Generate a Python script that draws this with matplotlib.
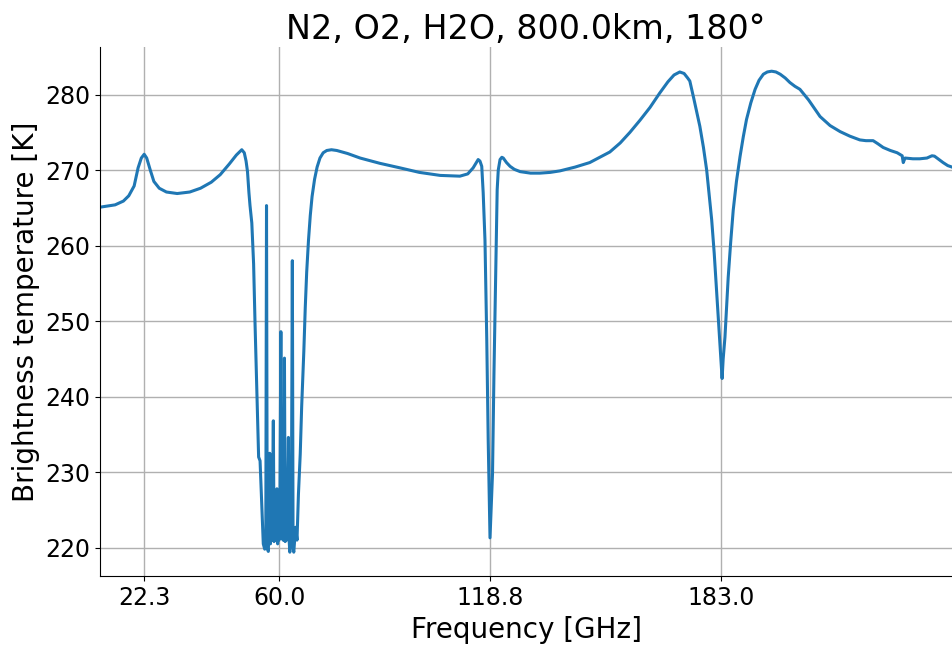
import matplotlib
matplotlib.use('Agg')
import matplotlib.pyplot as plt

# Frequency grid [GHz] and brightness temperature [K]
freq = [10.1, 14.2, 16.5, 18.0, 19.5, 20.6, 21.5, 22.3, 23.0, 24.0, 25.0, 26.5, 28.5, 31.5,
        35.0, 38.0, 41.0, 43.5, 46.0, 48.0, 49.5, 50.2, 50.7, 51.1, 51.5, 51.8, 52.3, 52.8,
        53.2, 53.7, 54.2, 54.6, 55.1, 55.5,
        55.9, 56.2, 56.4, 56.6, 56.9, 57.1, 57.3, 57.5, 57.7, 57.9, 58.0, 58.3, 58.5, 58.7,
        58.9, 59.1, 59.3, 59.5, 59.7, 59.9, 60.1, 60.4, 60.6, 60.8, 61.0, 61.2, 61.4, 61.6,
        61.8, 62.0, 62.2, 62.5, 62.7, 62.9, 63.1, 63.3, 63.6, 63.8, 64.0, 64.3, 64.5, 64.9,
        65.3, 65.8, 66.2, 66.8, 67.2, 67.6, 68.1, 68.6, 69.1, 69.8, 70.5, 71.3, 72.2, 73.2,
        74.5, 76.0, 79.0, 82.5, 88.0, 93.6, 99.0, 104.8, 110.3, 112.5, 114.0, 115.0, 115.4,
        115.9, 116.4, 116.8, 117.3, 117.8, 118.2, 118.7,
        119.4, 119.8, 120.3, 120.7, 121.0, 121.5, 122.0, 122.4, 123.3, 124.3, 125.5, 127.1,
        130.0, 132.6, 135.5, 138.2, 142.4, 146.5, 152.1, 155.0, 157.7, 160.5, 163.3, 166.0,
        168.3, 170.0, 171.6, 172.8, 173.8, 174.4, 175.5, 177.2, 178.2, 179.1, 180.5, 181.2,
        181.9, 182.5, 182.8, 183.4, 183.7, 184.2, 184.6, 185.1, 185.8, 186.5, 187.4, 188.4,
        189.3, 190.2, 191.4, 192.6, 193.7, 194.9, 196.0, 197.2, 198.4, 199.6, 201.0, 202.3,
        203.7, 205.1, 207.5, 210.7, 213.5, 216.3, 219.0, 221.8, 223.5, 225.5, 226.8, 228.3,
        230.3, 232.2, 233.6, 233.9, 234.4, 236.6, 238.5, 240.5, 241.9, 242.6, 243.3, 245.0,
        246.3, 247.5]
tb = [265.1, 265.4, 265.9, 266.6, 267.9, 270.3, 271.6, 272.1, 271.6, 270.0, 268.5, 267.6, 267.1, 266.9,
      267.1, 267.6, 268.4, 269.4, 270.8, 272.0, 272.7, 272.3, 271.2, 269.8, 267.0, 265.3, 263.0, 257.6,
      249.7, 241.0, 232.0, 231.5, 225.3, 220.5,
      219.8, 221.0, 265.3, 220.0, 219.5, 223.0, 232.5, 220.5, 227.0, 221.0, 222.0, 236.8, 220.8, 227.5,
      221.0, 226.0, 227.8, 220.5, 224.0, 221.0, 223.0, 248.6, 221.5, 228.0, 221.0, 227.0, 245.1, 220.8,
      226.0, 221.0, 225.0, 234.6, 221.0, 219.4, 222.0, 221.0, 258.0, 220.0, 219.4, 221.5, 222.7, 221.0,
      227.1, 232.4, 238.7, 246.0, 251.8, 256.5, 260.7, 264.0, 266.5, 268.8, 270.4, 271.6, 272.3, 272.6,
      272.7, 272.6, 272.2, 271.6, 270.9, 270.3, 269.7, 269.3, 269.2, 269.5, 270.3, 271.1, 271.4,
      271.2, 270.5, 267.0, 260.7, 247.5, 234.2, 221.3,
      229.8, 243.0, 256.3, 267.4, 270.0, 271.4, 271.7, 271.6, 271.0, 270.5, 270.1, 269.8,
      269.6, 269.6, 269.7, 269.9, 270.4, 271.0, 272.4, 273.6, 275.0, 276.6, 278.3, 280.2,
      281.7, 282.6, 283.0, 282.8, 282.2, 281.8, 279.5, 275.8, 273.0, 270.0, 263.4, 259.0,
      253.7, 249.0, 247.0, 242.4, 245.0, 247.9, 251.5, 255.8, 260.5, 264.7, 268.5, 271.8,
      274.4, 276.7, 278.9, 280.7, 281.9, 282.7, 283.0, 283.1, 283.0, 282.7, 282.2, 281.6,
      281.1, 280.7, 279.3, 277.1, 275.9, 275.1, 274.5, 274.0, 273.9, 273.9, 273.5, 273.0,
      272.6, 272.3, 271.9, 271.0, 271.6, 271.5, 271.5, 271.6, 271.9, 271.85, 271.6, 271.0,
      270.6, 270.4]

xticks = [22.3, 60.0, 118.8, 183.0]

fig = plt.figure(figsize=(9.53, 6.46), dpi=100)
ax = fig.add_axes([0.105, 0.108, 0.894, 0.819])
ax.plot(freq, tb, color='#1f77b4', linewidth=2.2)

ax.set_xlim(10, 247.5)
ax.set_xticks(xticks)
ax.set_xticklabels(['%.1f' % t for t in xticks])
ax.tick_params(labelsize=17)
ax.grid(True, color='#b0b0b0', linewidth=1)
ax.spines['top'].set_visible(False)
ax.spines['right'].set_visible(False)

ax.set_xlabel('Frequency [GHz]', fontsize=20)
ax.set_ylabel('Brightness temperature [K]', fontsize=20)
ax.set_title('N2, O2, H2O, 800.0km, 180°', fontsize=24)

fig.savefig('out.png', dpi=100)
